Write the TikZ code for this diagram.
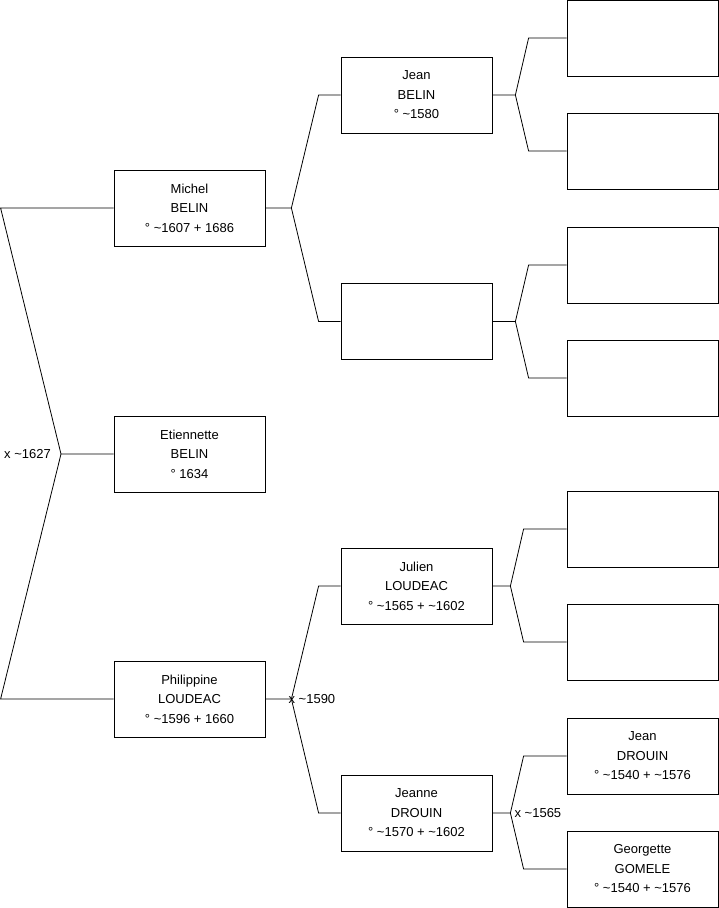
\documentclass[tikz,border=0pt]{standalone}
\usepackage{fontspec}
\setmainfont{Liberation Sans}

\begin{document}
\begin{tikzpicture}[x=1pt, y=-1pt,
    every node/.style={font=\fontsize{13}{19.5}\selectfont},
    person/.style={draw, line width=0.8pt, minimum width=151pt, minimum height=76pt,
                   inner sep=0pt, align=center},
    link/.style={line width=0.8pt}]
    \useasboundingbox (0,0) rectangle (719,908);
    % Child
    \node[person] (E) at (189.5,454) {Etiennette\\BELIN\\° 1634};
    % Parents
    \node[person] (M) at (189.5,208) {Michel\\BELIN\\° \textasciitilde1607 + 1686};
    \node[person] (P) at (189.5,699) {Philippine\\LOUDEAC\\° \textasciitilde1596 + 1660};
    % Grandparents
    \node[person] (JB) at (416.5,95)  {Jean\\BELIN\\° \textasciitilde1580};
    \node[person] (MB) at (416.5,321.5) {};
    \node[person] (JL) at (416.5,586) {Julien\\LOUDEAC\\° \textasciitilde1565 + \textasciitilde1602};
    \node[person] (JD) at (416.5,813) {Jeanne\\DROUIN\\° \textasciitilde1570 + \textasciitilde1602};
    % Great-grandparents
    \node[person] (G1) at (642.5,38)  {};
    \node[person] (G2) at (642.5,151) {};
    \node[person] (G3) at (642.5,265) {};
    \node[person] (G4) at (642.5,378) {};
    \node[person] (G5) at (642.5,529) {};
    \node[person] (G6) at (642.5,642) {};
    \node[person] (G7) at (642.5,756) {Jean\\DROUIN\\° \textasciitilde1540 + \textasciitilde1576};
    \node[person] (G8) at (642.5,869) {Georgette\\GOMELE\\° \textasciitilde1540 + \textasciitilde1576};
    % Etiennette's parents
    \coordinate (fE) at (61,454);
    \draw[link] (E.west) -- (fE) -- ([xshift=-113pt]M.west) -- (M.west);
    \draw[link] (fE) -- ([xshift=-113pt]P.west) -- (P.west);
    \node[left, inner sep=10pt] (xE) at (fE) {x \textasciitilde1627};
    % Michel's parents
    \draw[link] (M.east) -- ++(26,0) coordinate (fM) -- ([xshift=-22pt]JB.west) -- (JB.west);
    \draw[link] (fM) -- ([xshift=-22pt]MB.west) -- (MB.west);
    % Philippine's parents
    \draw[link] (P.east) -- ++(26,0) coordinate (fP) -- ([xshift=-22pt]JL.west) -- (JL.west);
    \draw[link] (fP) -- ([xshift=-22pt]JD.west) -- (JD.west);
    \node[right, inner sep=0pt] (xP) at ([xshift=-3pt]fP) {x \textasciitilde1590};
    % Jean's parents
    \draw[link] (JB.east) -- ++(23,0) coordinate (fJB) -- ([xshift=-38pt]G1.west) -- (G1.west);
    \draw[link] (fJB) -- ([xshift=-38pt]G2.west) -- (G2.west);
    % unknown's parents
    \draw[link] (MB.east) -- ++(23,0) coordinate (fMB) -- ([xshift=-38pt]G3.west) -- (G3.west);
    \draw[link] (fMB) -- ([xshift=-38pt]G4.west) -- (G4.west);
    % Julien's parents
    \draw[link] (JL.east) -- ++(18,0) coordinate (fJL) -- ([xshift=-43pt]G5.west) -- (G5.west);
    \draw[link] (fJL) -- ([xshift=-43pt]G6.west) -- (G6.west);
    % Jeanne's parents
    \draw[link] (JD.east) -- ++(18,0) coordinate (fJD) -- ([xshift=-43pt]G7.west) -- (G7.west);
    \draw[link] (fJD) -- ([xshift=-43pt]G8.west) -- (G8.west);
    \node[right, inner sep=4pt] (xJ) at (fJD) {x \textasciitilde1565};
\end{tikzpicture}
\end{document}
